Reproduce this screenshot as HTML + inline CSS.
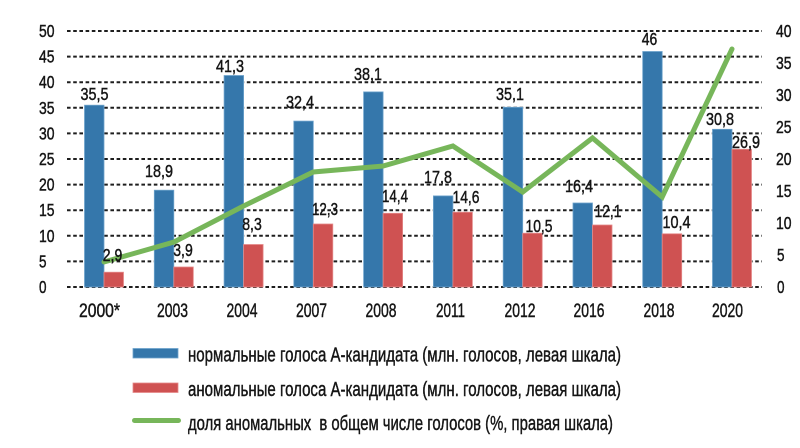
<!DOCTYPE html>
<html>
<head>
<meta charset="utf-8">
<style>
  html, body { margin:0; padding:0; background:#ffffff; }
  svg { display:block; }
  text { font-family: "Liberation Sans", "DejaVu Sans", sans-serif; fill:#151515; stroke:#151515; stroke-width:0.45px; }
</style>
</head>
<body>
<svg width="800" height="448" viewBox="0 0 800 448" xmlns="http://www.w3.org/2000/svg">
  <rect width="800" height="448" fill="#ffffff"/>
  <!-- gridlines -->
  <g stroke="#1e1e1e" stroke-width="2" stroke-dasharray="3.6,2.6">
    <line x1="67" y1="31" x2="762" y2="31"/>
    <line x1="67" y1="56.6" x2="762" y2="56.6"/>
    <line x1="67" y1="82.2" x2="762" y2="82.2"/>
    <line x1="67" y1="107.8" x2="762" y2="107.8"/>
    <line x1="67" y1="133.4" x2="762" y2="133.4"/>
    <line x1="67" y1="159" x2="762" y2="159"/>
    <line x1="67" y1="184.6" x2="762" y2="184.6"/>
    <line x1="67" y1="210.2" x2="762" y2="210.2"/>
    <line x1="67" y1="235.8" x2="762" y2="235.8"/>
    <line x1="67" y1="261.4" x2="762" y2="261.4"/>
    <line x1="67" y1="287" x2="762" y2="287"/>
  </g>
  <!-- left axis labels -->
  <g font-size="17.5">
    <text x="39" y="37" textLength="15.5" lengthAdjust="spacingAndGlyphs">50</text>
    <text x="39" y="62.6" textLength="15.5" lengthAdjust="spacingAndGlyphs">45</text>
    <text x="39" y="88.2" textLength="15.5" lengthAdjust="spacingAndGlyphs">40</text>
    <text x="39" y="113.8" textLength="15.5" lengthAdjust="spacingAndGlyphs">35</text>
    <text x="39" y="139.4" textLength="15.5" lengthAdjust="spacingAndGlyphs">30</text>
    <text x="39" y="165" textLength="15.5" lengthAdjust="spacingAndGlyphs">25</text>
    <text x="39" y="190.6" textLength="15.5" lengthAdjust="spacingAndGlyphs">20</text>
    <text x="39" y="216.2" textLength="15.5" lengthAdjust="spacingAndGlyphs">15</text>
    <text x="39" y="241.8" textLength="15.5" lengthAdjust="spacingAndGlyphs">10</text>
    <text x="39" y="267.4" textLength="7.5" lengthAdjust="spacingAndGlyphs">5</text>
    <text x="39" y="293" textLength="7.5" lengthAdjust="spacingAndGlyphs">0</text>
  </g>
  <!-- right axis labels -->
  <g font-size="17.5">
    <text x="776" y="37" textLength="15.5" lengthAdjust="spacingAndGlyphs">40</text>
    <text x="776" y="69" textLength="15.5" lengthAdjust="spacingAndGlyphs">35</text>
    <text x="776" y="101" textLength="15.5" lengthAdjust="spacingAndGlyphs">30</text>
    <text x="776" y="133" textLength="15.5" lengthAdjust="spacingAndGlyphs">25</text>
    <text x="776" y="165" textLength="15.5" lengthAdjust="spacingAndGlyphs">20</text>
    <text x="776" y="197" textLength="15.5" lengthAdjust="spacingAndGlyphs">15</text>
    <text x="776" y="229" textLength="15.5" lengthAdjust="spacingAndGlyphs">10</text>
    <text x="777" y="261" textLength="7.5" lengthAdjust="spacingAndGlyphs">5</text>
    <text x="777" y="293" textLength="7.5" lengthAdjust="spacingAndGlyphs">0</text>
  </g>
  <!-- blue bars -->
  <g fill="#3577ab" stroke="#6ea3cc" stroke-width="0.8">
    <rect x="84.5" y="105.2" width="19.5" height="181.8"/>
    <rect x="154.3" y="190.2" width="19.5" height="96.8"/>
    <rect x="224.1" y="75.5" width="19.5" height="211.5"/>
    <rect x="293.8" y="121.1" width="19.5" height="165.9"/>
    <rect x="363.6" y="91.9" width="19.5" height="195.1"/>
    <rect x="433.4" y="195.9" width="19.5" height="91.1"/>
    <rect x="503.2" y="107.3" width="19.5" height="179.7"/>
    <rect x="573.0" y="203.0" width="19.5" height="84.0"/>
    <rect x="642.7" y="51.5" width="19.5" height="235.5"/>
    <rect x="712.5" y="129.3" width="19.5" height="157.7"/>
  </g>
  <!-- red bars -->
  <g fill="#cf5252" stroke="#e58a8a" stroke-width="0.8">
    <rect x="104" y="272.2" width="19.5" height="14.8"/>
    <rect x="173.8" y="267.0" width="19.5" height="20.0"/>
    <rect x="243.6" y="244.5" width="19.5" height="42.5"/>
    <rect x="313.3" y="224.0" width="19.5" height="63.0"/>
    <rect x="383.1" y="213.3" width="19.5" height="73.7"/>
    <rect x="452.9" y="212.2" width="19.5" height="74.8"/>
    <rect x="522.7" y="233.2" width="19.5" height="53.8"/>
    <rect x="592.5" y="225.0" width="19.5" height="62.0"/>
    <rect x="662.2" y="233.8" width="19.5" height="53.2"/>
    <rect x="732.0" y="149.3" width="19.5" height="137.7"/>
  </g>
  <!-- green line -->
  <polyline fill="none" stroke="#77b65a" stroke-width="5" stroke-linejoin="miter" stroke-linecap="round"
    points="104,262 174,242 243.6,206 313.3,172 383.1,166 452.9,146 522.7,192 592.5,138 662.2,197 732,49"/>
  <!-- data labels -->
  <g font-size="17.5" text-anchor="middle">
    <text x="94.5" y="100" textLength="28" lengthAdjust="spacingAndGlyphs">35,5</text>
    <text x="159" y="177" textLength="28" lengthAdjust="spacingAndGlyphs">18,9</text>
    <text x="230" y="72" textLength="28" lengthAdjust="spacingAndGlyphs">41,3</text>
    <text x="300" y="108" textLength="28" lengthAdjust="spacingAndGlyphs">32,4</text>
    <text x="368" y="80" textLength="28" lengthAdjust="spacingAndGlyphs">38,1</text>
    <text x="438" y="183" textLength="28" lengthAdjust="spacingAndGlyphs">17,8</text>
    <text x="510" y="100" textLength="28" lengthAdjust="spacingAndGlyphs">35,1</text>
    <text x="579" y="192" textLength="28" lengthAdjust="spacingAndGlyphs">16,4</text>
    <text x="649.5" y="45" textLength="15.5" lengthAdjust="spacingAndGlyphs">46</text>
    <text x="720" y="125" textLength="28" lengthAdjust="spacingAndGlyphs">30,8</text>

    <text x="112.5" y="261" textLength="19.5" lengthAdjust="spacingAndGlyphs">2,9</text>
    <text x="183" y="256" textLength="19.5" lengthAdjust="spacingAndGlyphs">3,9</text>
    <text x="252" y="230" textLength="19.5" lengthAdjust="spacingAndGlyphs">8,3</text>
    <text x="325" y="215" textLength="26" lengthAdjust="spacingAndGlyphs">12,3</text>
    <text x="395" y="202" textLength="26" lengthAdjust="spacingAndGlyphs">14,4</text>
    <text x="466" y="203" textLength="27" lengthAdjust="spacingAndGlyphs">14,6</text>
    <text x="539" y="232" textLength="27" lengthAdjust="spacingAndGlyphs">10,5</text>
    <text x="608" y="217" textLength="27" lengthAdjust="spacingAndGlyphs">12,1</text>
    <text x="676.5" y="228" textLength="28" lengthAdjust="spacingAndGlyphs">10,4</text>
    <text x="746" y="148" textLength="28" lengthAdjust="spacingAndGlyphs">26,9</text>
  </g>
  <!-- x labels -->
  <g font-size="19.5" text-anchor="middle">
    <text x="99.5" y="317" textLength="41" lengthAdjust="spacingAndGlyphs">2000*</text>
    <text x="172.5" y="317" textLength="31" lengthAdjust="spacingAndGlyphs">2003</text>
    <text x="242" y="317" textLength="31" lengthAdjust="spacingAndGlyphs">2004</text>
    <text x="311.5" y="317" textLength="31" lengthAdjust="spacingAndGlyphs">2007</text>
    <text x="381" y="317" textLength="31" lengthAdjust="spacingAndGlyphs">2008</text>
    <text x="450.5" y="317" textLength="29" lengthAdjust="spacingAndGlyphs">2011</text>
    <text x="520" y="317" textLength="31" lengthAdjust="spacingAndGlyphs">2012</text>
    <text x="589" y="317" textLength="31" lengthAdjust="spacingAndGlyphs">2016</text>
    <text x="659" y="317" textLength="31" lengthAdjust="spacingAndGlyphs">2018</text>
    <text x="727.5" y="317" textLength="31" lengthAdjust="spacingAndGlyphs">2020</text>
  </g>
  <!-- legend -->
  <rect x="133" y="348.5" width="45" height="9.5" fill="#3577ab" stroke="#6ea3cc" stroke-width="0.8"/>
  <rect x="133" y="383" width="45" height="9.5" fill="#cf5252" stroke="#e58a8a" stroke-width="0.8"/>
  <line x1="134.5" y1="420.5" x2="178.5" y2="420.5" stroke="#77b65a" stroke-width="5" stroke-linecap="round"/>
  <g font-size="20">
    <text x="188" y="361.5" textLength="433" lengthAdjust="spacingAndGlyphs">нормальные голоса А-кандидата (млн. голосов, левая шкала)</text>
    <text x="188" y="396" textLength="433" lengthAdjust="spacingAndGlyphs">аномальные голоса А-кандидата (млн. голосов, левая шкала)</text>
    <text x="188" y="430" textLength="425" lengthAdjust="spacingAndGlyphs" xml:space="preserve">доля аномальных  в общем числе голосов (%, правая шкала)</text>
  </g>
</svg>
</body>
</html>
